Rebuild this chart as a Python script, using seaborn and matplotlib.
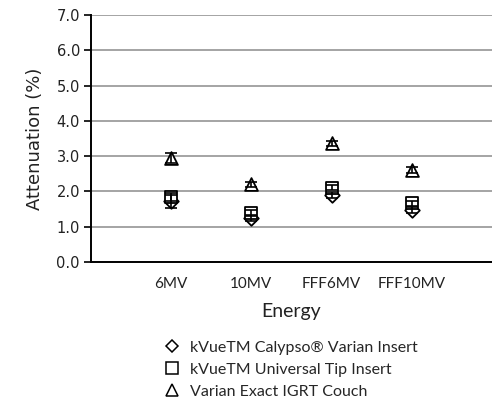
import matplotlib
matplotlib.use("Agg")
import matplotlib.pyplot as plt
from matplotlib.lines import Line2D
import seaborn as sns
import pandas as pd

energies = ["6MV", "10MV", "FFF6MV", "FFF10MV"]
legend_labels = [
    "kVueTM Calypso\u00ae Varian Insert",
    "kVueTM Universal Tip Insert",
    "Varian Exact IGRT Couch",
]
calypso = [1.72, 1.25, 1.90, 1.47]
calypso_err = [0.18, 0.08, 0.08, 0.08]
universal = [1.84, 1.38, 2.11, 1.66]
universal_err = [0.12, 0.08, 0.08, 0.08]
couch = [2.95, 2.20, 3.36, 2.61]
couch_err = [0.15, 0.08, 0.08, 0.08]

marker_map = {legend_labels[0]: "D", legend_labels[1]: "s", legend_labels[2]: "^"}
size_map = {legend_labels[0]: 55, legend_labels[1]: 85, legend_labels[2]: 85}

df = pd.DataFrame({
    "Energy": energies * 3,
    "Attenuation": calypso + universal + couch,
    "err": calypso_err + universal_err + couch_err,
    "Series": [legend_labels[0]] * 4 + [legend_labels[1]] * 4 + [legend_labels[2]] * 4,
})

sns.set_style("white")
plt.rcParams["font.family"] = ["DejaVu Sans"]

fig = plt.figure(figsize=(4.92, 4.01), dpi=100)
ax = fig.add_axes([91 / 492, 1 - 262 / 401, 1 - 91 / 492, (262 - 15) / 401])

for name in legend_labels:
    sub = df[df["Series"] == name]
    sns.scatterplot(data=sub, x="Energy", y="Attenuation", marker=marker_map[name],
                    s=size_map[name], facecolor="white", edgecolor="black",
                    linewidth=1.3, ax=ax, zorder=3, legend=False)
    ax.errorbar(sub["Energy"], sub["Attenuation"], yerr=sub["err"], fmt="none",
                ecolor="black", elinewidth=1.2, capsize=4, capthick=1.2, zorder=4)

ax.set_xlim(-1, 4)
ax.set_ylim(0, 7)
ax.set_yticks([0, 1, 2, 3, 4, 5, 6, 7])
ax.set_yticklabels([f"{v:.1f}" for v in range(8)], fontsize=10.5, color="#222222")
ax.set_xticks(range(len(energies)))
ax.set_xticklabels(energies, fontsize=11, family=["Lato", "DejaVu Sans"], color="#222222")
ax.yaxis.grid(True, color="#8c8c8c", linewidth=1.1)
ax.xaxis.grid(False)
for side in ["top", "right"]:
    ax.spines[side].set_visible(False)
for side in ["left", "bottom"]:
    ax.spines[side].set_color("black")
    ax.spines[side].set_linewidth(1.4)
ax.tick_params(axis="y", which="both", left=True, length=5, width=1.2, color="black", pad=3)
ax.tick_params(axis="x", bottom=False, pad=7)
ax.set_ylabel("Attenuation (%)", fontsize=13, color="#222222", labelpad=9)
ax.set_xlabel("Energy", fontsize=14, family=["Lato", "DejaVu Sans"], color="#222222", labelpad=9)

handles = [
    Line2D([], [], linestyle="none", marker="D", markersize=6, markerfacecolor="white",
           markeredgecolor="black", markeredgewidth=1.1),
    Line2D([], [], linestyle="none", marker="s", markersize=8, markerfacecolor="white",
           markeredgecolor="black", markeredgewidth=1.1),
    Line2D([], [], linestyle="none", marker="^", markersize=8, markerfacecolor="white",
           markeredgecolor="black", markeredgewidth=1.1),
]
fig.legend(handles, legend_labels, loc="upper left", bbox_to_anchor=(150 / 492, 1 - 326 / 401),
           frameon=False, handlelength=1.0, handletextpad=0.6, labelspacing=0.5,
           prop={"family": ["Lato", "DejaVu Sans"], "size": 11.5})

fig.savefig("out.png", dpi=100, facecolor="white")
